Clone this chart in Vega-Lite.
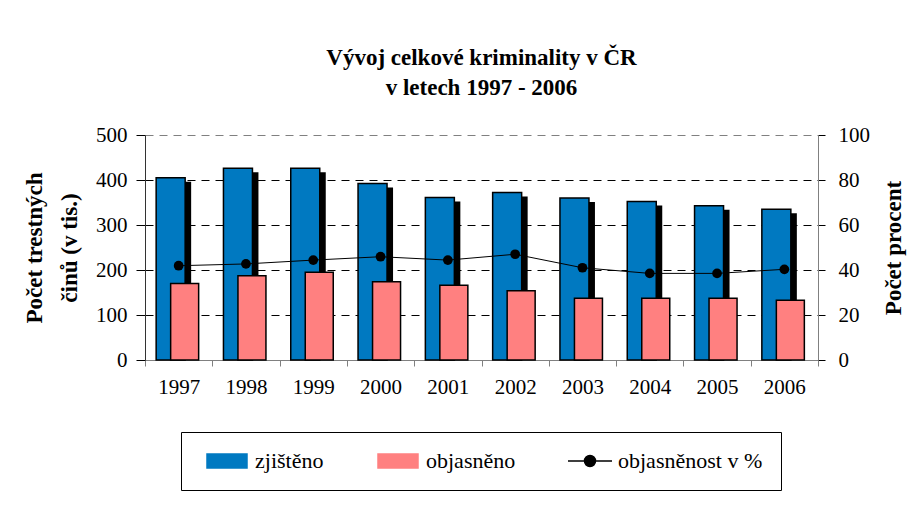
{
  "$schema": "https://vega.github.io/schema/vega-lite/v6.json",
  "width": 673,
  "height": 225,
  "autosize": "none",
  "padding": {"left": 145, "top": 135, "right": 92, "bottom": 147},
  "background": "white",
  "title": {
    "text": ["Vývoj celkové kriminality v ČR", "v letech 1997 - 2006"],
    "font": "Liberation Serif",
    "fontSize": 23,
    "fontWeight": "bold",
    "lineHeight": 30,
    "color": "black",
    "anchor": "middle",
    "offset": 24
  },
  "config": {
    "font": "Liberation Serif",
    "view": {"stroke": null},
    "axis": {
      "labelFont": "Liberation Serif",
      "labelFontSize": 21,
      "labelColor": "black",
      "titleFont": "Liberation Serif",
      "titleFontSize": 23,
      "titleFontWeight": "bold",
      "titleColor": "black"
    }
  },
  "data": {
    "values": [
      {"year": "1997", "zjisteno": 405, "objasneno": 170, "pct": 41.9},
      {"year": "1998", "zjisteno": 426, "objasneno": 187, "pct": 42.7},
      {"year": "1999", "zjisteno": 426, "objasneno": 195, "pct": 44.4},
      {"year": "2000", "zjisteno": 392, "objasneno": 174, "pct": 45.9},
      {"year": "2001", "zjisteno": 361, "objasneno": 166, "pct": 44.4},
      {"year": "2002", "zjisteno": 372, "objasneno": 154, "pct": 47.0},
      {"year": "2003", "zjisteno": 360, "objasneno": 137, "pct": 41.0},
      {"year": "2004", "zjisteno": 352, "objasneno": 137, "pct": 38.5},
      {"year": "2005", "zjisteno": 343, "objasneno": 137, "pct": 38.5},
      {"year": "2006", "zjisteno": 335, "objasneno": 133, "pct": 40.3}
    ]
  },
  "encoding": {
    "x": {
      "field": "year",
      "type": "nominal",
      "scale": {"paddingInner": 0, "paddingOuter": 0},
      "axis": {
        "title": null,
        "labelAngle": 0,
        "labelFont": "Liberation Serif",
        "labelFontSize": 21,
        "domainColor": "#808080",
        "tickColor": "#808080",
        "tickSize": 6,
        "tickBand": "extent",
        "labelPadding": 10
      }
    }
  },
  "layer": [
    {
      "layer": [
        {
          "mark": {"type": "bar", "color": "black", "width": 29, "xOffset": -2, "yOffset": 4, "clip": true},
          "encoding": {
            "y": {
              "field": "zjisteno",
              "type": "quantitative",
              "scale": {"domain": [0, 500]},
              "axis": {
                "title": ["Počet trestných", "činů (v tis.)"],
                "titleFont": "Liberation Serif",
                "titleLineHeight": 35,
                "titlePadding": 14,
                "values": [0, 100, 200, 300, 400, 500],
                "labelFont": "Liberation Serif",
                "labelFontSize": 21,
                "domainColor": "#333333",
                "tickColor": "black",
                "tickSize": 9,
                "labelPadding": 9,
                "grid": true,
                "gridColor": {
                  "condition": [
                    {"test": "datum.value === 0", "value": "transparent"},
                    {"test": "datum.value === 500", "value": "#808080"}
                  ],
                  "value": "black"
                },
                "gridDash": [8, 6],
                "gridWidth": 1
              }
            }
          }
        },
        {
          "mark": {"type": "bar", "width": 29, "xOffset": -8, "stroke": "black", "strokeWidth": 1.5},
          "encoding": {
            "y": {"field": "zjisteno", "type": "quantitative"},
            "color": {
              "datum": "zjištěno",
              "type": "nominal",
              "scale": {
                "domain": ["zjištěno", "objasněno", "objasněnost v %"],
                "range": ["#0079C1", "#FF8080", "black"]
              },
              "legend": {
                "title": null,
                "orient": "none",
                "legendX": 36,
                "legendY": 297,
                "direction": "horizontal",
                "strokeColor": "black",
                "fillColor": "white",
                "padding": 18,
                "symbolSize": 400,
                "symbolOffset": 17,
                "labelOffset": 17,
                "columnPadding": 46,
                "labelFont": "Liberation Serif",
                "labelFontSize": 22,
                "labelColor": "black",
                "labelLimit": 300,
                "symbolStrokeColor": "black",
                "symbolStrokeWidth": 1.5,
                "symbolOpacity": 1,
                "symbolType": {"signal": "datum.value === 'objasněnost v %' ? 'M-2.2,0H2.2M-0.55,0A0.55,0.55 0 1,0 0.55,0A0.55,0.55 0 1,0 -0.55,0' : 'M-2,-0.7H2V0.7H-2Z'"}
              }
            }
          }
        },
        {
          "mark": {"type": "bar", "width": 28, "xOffset": 6, "stroke": "black", "strokeWidth": 1.5},
          "encoding": {
            "y": {"field": "objasneno", "type": "quantitative"},
            "color": {"datum": "objasněno", "type": "nominal"}
          }
        }
      ]
    },
    {
      "mark": {"type": "line", "strokeWidth": 1, "point": {"filled": true, "size": 95, "opacity": 1}},
      "encoding": {
        "y": {
          "field": "pct",
          "type": "quantitative",
          "scale": {"domain": [0, 100]},
          "axis": {
            "orient": "right",
            "title": "Počet procent",
            "titleFont": "Liberation Serif",
            "titleAngle": 270,
            "titlePadding": 36,
            "values": [0, 20, 40, 60, 80, 100],
            "labelFont": "Liberation Serif",
            "labelFontSize": 21,
            "domainColor": "#808080",
            "tickColor": "black",
            "tickSize": 7,
            "labelPadding": 13,
            "grid": false
          }
        },
        "color": {"datum": "objasněnost v %", "type": "nominal"}
      }
    }
  ],
  "resolve": {"scale": {"y": "independent"}}
}
